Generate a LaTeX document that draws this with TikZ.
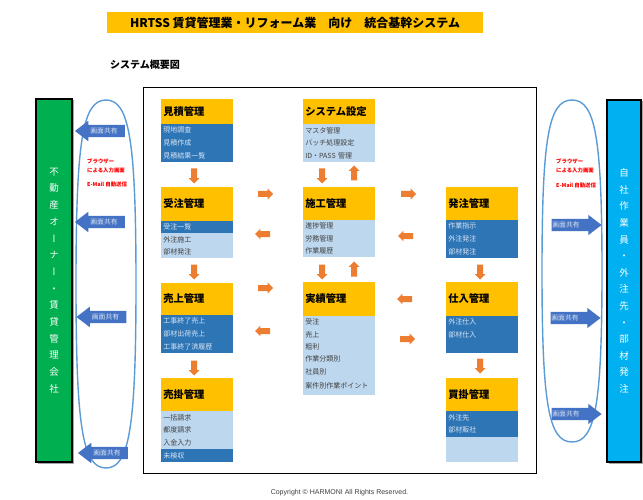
\documentclass[tikz,border=0pt]{standalone}
\usepackage{fontspec}
\setmainfont{Noto Sans CJK JP}
\newfontfamily\jpv[RawFeature=+vert]{Noto Sans CJK JP}
\newfontfamily\latf{Liberation Sans}
\usetikzlibrary{shapes.arrows,positioning,shadows}
\definecolor{hdrY}{HTML}{FFC000}
\definecolor{dBlue}{HTML}{2E75B6}
\definecolor{lBlue}{HTML}{BDD7EE}
\definecolor{oArr}{HTML}{ED7D31}
\definecolor{bArr}{HTML}{4472C4}
\definecolor{ellC}{HTML}{5B9BD5}
\definecolor{gBox}{HTML}{00B050}
\definecolor{cBox}{HTML}{00B0F0}
\definecolor{dTxt}{HTML}{D9E5F2}
\definecolor{gTxt}{HTML}{404040}
\definecolor{rTxt}{HTML}{FF0000}
\tikzset{
  hdrbox/.style={rectangle, fill=hdrY, anchor=north west, minimum width=72pt,
    text width=67.4pt, inner xsep=2.3pt, inner ysep=0pt, outer sep=0pt, align=left,
    font=\bfseries\fontsize{10.3}{12}\selectfont},
  rowbase/.style={rectangle, minimum width=72pt, text width=67.4pt, outer sep=0pt,
    inner xsep=2.3pt, inner ysep=0pt, align=left, font=\fontsize{7}{8}\selectfont},
  drow/.style={rowbase, fill=dBlue, text=dTxt},
  lrow/.style={rowbase, fill=lBlue, text=gTxt},
  oarrow/.style={single arrow, fill=oArr, minimum height=15pt, text height=0pt,
    text depth=0pt, text width=0pt, inner sep=2.8pt, single arrow head extend=2.4pt},
  barrow/.style={single arrow, fill=bArr, minimum height=50pt, text height=0pt,
    text depth=0pt, inner xsep=0pt, inner ysep=6pt, single arrow head extend=4pt,
    single arrow tip angle=75},
  blabel/.style={inner sep=0pt, text=dTxt, font=\fontsize{6.8}{8}\selectfont},
  redtxt/.style={inner sep=0pt, anchor=west, text=rTxt, font=\bfseries\fontsize{5.4}{6}\selectfont},
  sidebox/.style={rectangle, draw=black, line width=1.2pt, text=white, align=center,
    drop shadow={shadow xshift=1.5pt, shadow yshift=-1.5pt, fill=gray!70, opacity=1}},
  ellline/.style={draw=ellC, line width=1.4pt}
}
\begin{document}
\begin{tikzpicture}[x=1pt,y=-1pt]
\fill[white] (0,0) rectangle (643,500);
\useasboundingbox (0,0) rectangle (643,500);

% title
\node[fill=hdrY, minimum width=376pt, minimum height=21pt, inner sep=0pt,
  font=\bfseries\fontsize{12}{14}\selectfont] (title) at (295,22.5)
  {HRTSS 賃貸管理業・リフォーム業　向け　統合基幹システム};
\node[anchor=west, inner sep=0pt, font=\bfseries\fontsize{10}{12}\selectfont] (subtitle)
  at (110,65) {システム概要図};

% main frame
\node[draw=black, line width=0.9pt, anchor=north west, minimum width=393pt,
  minimum height=386pt, inner sep=0pt] (frame) at (143,87) {};

% ellipses
\draw[ellline] (106,100) .. controls (82.6,100) and (76,140.5) .. (76,284)
  .. controls (76,427.5) and (82.6,468) .. (106,468)
  .. controls (129.4,468) and (136,427.5) .. (136,284)
  .. controls (136,140.5) and (129.4,100) .. (106,100) -- cycle;
\draw[ellline] (572,100) .. controls (548.6,100) and (542,137.6) .. (542,271)
  .. controls (542,404.4) and (548.6,442) .. (572,442)
  .. controls (595.4,442) and (602,404.4) .. (602,271)
  .. controls (602,137.6) and (595.4,100) .. (572,100) -- cycle;

% side boxes
\node[sidebox, fill=gBox, minimum width=36pt, minimum height=363pt,
  font=\jpv\fontsize{9.5}{16.7}\selectfont] (owner) at (54,280.5)
  {不\\動\\産\\オ\\ー\\ナ\\ー\\・\\賃\\貸\\管\\理\\会\\社};
\node[sidebox, fill=cBox, minimum width=34pt, minimum height=362pt,
  font=\jpv\fontsize{9.5}{16.6}\selectfont] (staff) at (624,281)
  {自\\社\\作\\業\\員\\・\\外\\注\\先\\・\\部\\材\\発\\注};

% red texts
\node[redtxt] (lr1) at (87,161) {ブラウザー};
\node[redtxt] (lr2) at (87,170) {による入力画面};
\node[redtxt] (lr3) at (87,184) {E-Mail 自動送信};
\node[redtxt] (rr1) at (556,161) {ブラウザー};
\node[redtxt] (rr2) at (556,170) {による入力画面};
\node[redtxt] (rr3) at (556,185) {E-Mail 自動送信};

% blue arrows left
\node[barrow, shape border rotate=180] (bl1) at (104,131) {};
\node[barrow, shape border rotate=180] (bl2) at (104,222) {};
\node[barrow, shape border rotate=180] (bl3) at (105.5,317) {};
\node[barrow, shape border rotate=180] (bl4) at (107,453) {};
\node[blabel] (tl1) at (104,131) {画面共有};
\node[blabel] (tl2) at (104,222) {画面共有};
\node[blabel] (tl3) at (105.5,317) {画面共有};
\node[blabel] (tl4) at (107,453) {画面共有};
% blue arrows right
\node[barrow] (br1) at (572.5,225) {};
\node[barrow] (br2) at (571.5,318) {};
\node[barrow] (br3) at (572.5,414) {};
\node[blabel] (tr1) at (566,225) {画面共有};
\node[blabel] (tr2) at (565,318) {画面共有};
\node[blabel] (tr3) at (566,414) {画面共有};

% column 1
\node[hdrbox, minimum height=25pt] (mitsu) at (161,99) {見積管理};
\node[drow, minimum height=12.67pt, below=0pt of mitsu] (mitsu1) {現地調査};
\node[drow, minimum height=12.67pt, below=0pt of mitsu1] (mitsu2) {見積作成};
\node[drow, minimum height=12.67pt, below=0pt of mitsu2] (mitsu3) {見積結果一覧};

\node[hdrbox, minimum height=34pt] (juchu) at (161,187) {受注管理};
\node[drow, minimum height=12.33pt, below=0pt of juchu] (juchu1) {受注一覧};
\node[lrow, minimum height=12.33pt, below=0pt of juchu1] (juchu2) {外注施工};
\node[lrow, minimum height=12.33pt, below=0pt of juchu2] (juchu3) {部材発注};

\node[hdrbox, minimum height=32pt] (uriage) at (161,283) {売上管理};
\node[drow, minimum height=12.67pt, below=0pt of uriage] (uriage1) {工事終了売上};
\node[drow, minimum height=12.67pt, below=0pt of uriage1] (uriage2) {部材出荷売上};
\node[drow, minimum height=12.67pt, below=0pt of uriage2] (uriage3) {工事終了済履歴};

\node[hdrbox, minimum height=33pt] (urikake) at (161,378) {売掛管理};
\node[lrow, minimum height=12.75pt, below=0pt of urikake] (urikake1) {一括請求};
\node[lrow, minimum height=12.75pt, below=0pt of urikake1] (urikake2) {都度請求};
\node[lrow, minimum height=12.75pt, below=0pt of urikake2] (urikake3) {入金入力};
\node[drow, minimum height=12.75pt, below=0pt of urikake3] (urikake4) {未検収};

% column 2
\node[hdrbox, minimum height=25pt] (system) at (303,99) {システム設定};
\node[lrow, minimum height=12.67pt, below=0pt of system] (system1) {マスタ管理};
\node[lrow, minimum height=12.67pt, below=0pt of system1] (system2) {バッチ処理設定};
\node[lrow, minimum height=12.67pt, below=0pt of system2] (system3) {ID・PASS 管理};

\node[hdrbox, minimum height=33pt] (seko) at (303,187) {施工管理};
\node[lrow, minimum height=12.33pt, below=0pt of seko] (seko1) {進捗管理};
\node[lrow, minimum height=12.33pt, below=0pt of seko1] (seko2) {労務管理};
\node[lrow, minimum height=12.33pt, below=0pt of seko2] (seko3) {作業履歴};

\node[hdrbox, minimum height=34pt] (jisseki) at (303,282) {実績管理};
\node[lrow, minimum height=12.3pt, below=0pt of jisseki] (jisseki1) {受注};
\node[lrow, minimum height=12.3pt, below=0pt of jisseki1] (jisseki2) {売上};
\node[lrow, minimum height=12.3pt, below=0pt of jisseki2] (jisseki3) {粗利};
\node[lrow, minimum height=12.3pt, below=0pt of jisseki3] (jisseki4) {作業分類別};
\node[lrow, minimum height=12.3pt, below=0pt of jisseki4] (jisseki5) {社員別};
\node[lrow, minimum height=17.5pt, below=0pt of jisseki5] (jisseki6) {案件別作業ポイント};

% column 3
\node[hdrbox, minimum height=33pt] (hatchu) at (446,187) {発注管理};
\node[drow, minimum height=12.67pt, below=0pt of hatchu] (hatchu1) {作業指示};
\node[drow, minimum height=12.67pt, below=0pt of hatchu1] (hatchu2) {外注発注};
\node[drow, minimum height=12.67pt, below=0pt of hatchu2] (hatchu3) {部材発注};

\node[hdrbox, minimum height=34pt] (shiire) at (446,282) {仕入管理};
\node[drow, minimum height=12.33pt, below=0pt of shiire] (shiire1) {外注仕入};
\node[drow, minimum height=12.33pt, below=0pt of shiire1] (shiire2) {部材仕入};
\node[drow, minimum height=12.33pt, below=0pt of shiire2] (shiire3) {};

\node[hdrbox, minimum height=33pt] (kaikake) at (446,378) {買掛管理};
\node[drow, minimum height=12.75pt, below=0pt of kaikake] (kaikake1) {外注先};
\node[drow, minimum height=12.75pt, below=0pt of kaikake1] (kaikake2) {部材販社};
\node[lrow, minimum height=12.75pt, below=0pt of kaikake2] (kaikake3) {};
\node[lrow, minimum height=12.75pt, below=0pt of kaikake3] (kaikake4) {};

% orange arrows
\node[oarrow, shape border rotate=270] (oa1) at (194,174.5) {};
\node[oarrow, shape border rotate=270] (oa2) at (194,270.5) {};
\node[oarrow, shape border rotate=270] (oa3) at (194,366.5) {};
\node[oarrow] (oa4) at (264,194) {};
\node[oarrow, shape border rotate=180] (oa5) at (264,234) {};
\node[oarrow] (oa6) at (264,288) {};
\node[oarrow, shape border rotate=180] (oa7) at (264,331) {};
\node[oarrow, shape border rotate=270] (oa8) at (322,174.5) {};
\node[oarrow, shape border rotate=90] (oa9) at (354,174.5) {};
\node[oarrow, shape border rotate=270] (oa10) at (322,270.5) {};
\node[oarrow, shape border rotate=90] (oa11) at (354,270.5) {};
\node[oarrow] (oa12) at (407,194) {};
\node[oarrow, shape border rotate=180] (oa13) at (407,236) {};
\node[oarrow, shape border rotate=180] (oa14) at (406,299) {};
\node[oarrow] (oa15) at (406,339) {};
\node[oarrow, shape border rotate=270] (oa16) at (480,270.5) {};
\node[oarrow, shape border rotate=270] (oa17) at (480,364.5) {};

% copyright
\node[inner sep=0pt, text=gTxt, font=\latf\fontsize{7}{8}\selectfont] (copy)
  at (339.5,493) {Copyright © HARMONI All Rights Reserved.};
\end{tikzpicture}
\end{document}
